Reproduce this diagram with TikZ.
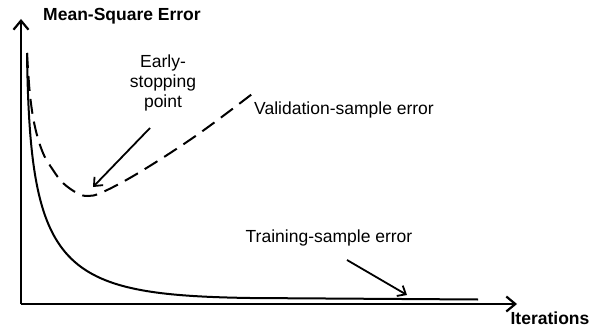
\documentclass[tikz,border=0pt]{standalone}
\usepackage{fontspec}
\setmainfont{Liberation Sans}
\usetikzlibrary{arrows.meta}

\begin{document}
\begin{tikzpicture}[x=1pt,y=-1pt]
\tikzset{axis/.style = {line width=2.4pt,-{Straight Barb[length=9pt,width=15pt,line width=2.2pt]}}}
\tikzset{curve/.style = {line width=2pt}}
\tikzset{pointer/.style = {line width=1.8pt,-{Straight Barb[length=7pt,width=12pt,line width=1.8pt]}}}
\tikzset{lab/.style = {font=\fontsize{17.5}{20}\selectfont,inner sep=0pt}}
\useasboundingbox (0,0) rectangle (604,331);
%axes
\coordinate (o) at (21,304);
\coordinate (ytip) at (21,19);
\coordinate (xtip) at (517,304);
\draw[axis] (o) -- (ytip);
\draw[axis] (o) -- (xtip);
\node[lab,font=\fontsize{17.5}{20}\selectfont\bfseries] (ylab) at (122,16) {Mean-Square Error};
\node[lab,font=\fontsize{17.5}{20}\selectfont\bfseries] (xlab) at (550,318) {Iterations};

%curves
\coordinate (start) at (27,53);
\coordinate (tknee) at (250,298);
\coordinate (tend) at (478,299.5);
\draw[curve] (start) .. controls (30,270) and (60,295) .. (tknee) -- (tend);
\draw[curve,dash pattern=on 15pt off 8pt] plot[smooth,tension=0.6] coordinates {(27,53) (30,95) (35,127) (43,153) (53,170) (63,183) (77,193) (88,196) (103,192) (140,172) (197,135) (256,91)};

%labels
\node[lab,align=center] (early) at (163,83) {Early-\\stopping\\point};
\coordinate (stop) at (93,187);
\coordinate (etail) at (150,128);
\draw[pointer] (etail) -- (stop);

\node[lab,anchor=west] (valid) at (254,110) {Validation-sample error};

\node[lab] (train) at (329,238) {Training-sample error};
\coordinate (ttail) at (347,260);
\coordinate (thead) at (407,295);
\draw[pointer] (ttail) -- (thead);
\end{tikzpicture}
\end{document}
